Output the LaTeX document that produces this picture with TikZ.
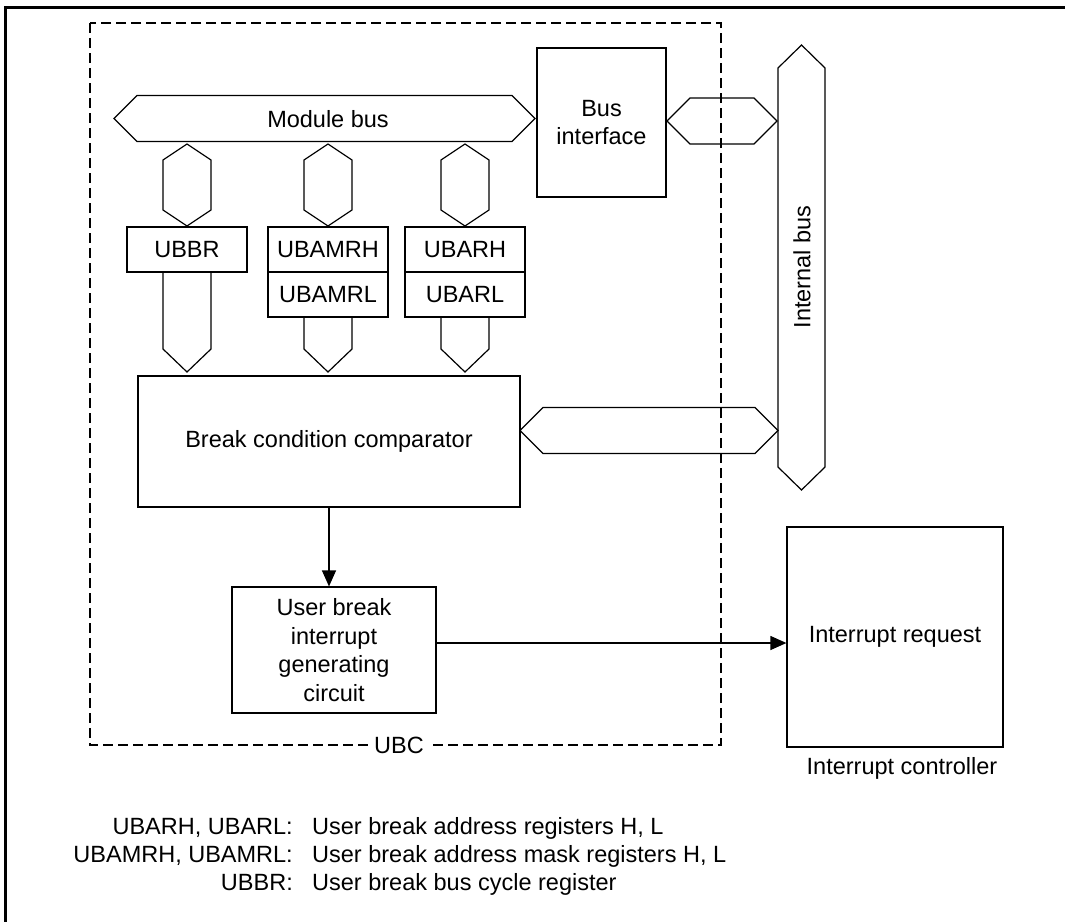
\documentclass[tikz,border=0pt]{standalone}
\usepackage{fontspec}
\setmainfont{Liberation Sans}
\usetikzlibrary{arrows.meta}

\tikzset{
  blk/.style={draw, line width=1.2pt, inner sep=0pt, align=center},
  bus/.style={draw, line width=1.2pt, line join=miter},
  arr/.style={line width=1.2pt, -{Triangle[length=16pt,width=14pt]}},
  txt/.style={inner sep=0pt},
}

% horizontal bus: left tip x, right tip x, mid y, half height
\newcommand{\hbus}[4]{%
  \draw[bus] (#1,#3) -- ({#1+#4},{#3-#4}) -- ({#2-#4},{#3-#4}) -- (#2,#3)
    -- ({#2-#4},{#3+#4}) -- ({#1+#4},{#3+#4}) -- cycle;}
% vertical bus: mid x, top tip y, bottom tip y, half width, tip depth
\newcommand{\vbus}[5]{%
  \draw[bus] (#1,#2) -- ({#1+#4},{#2+#5}) -- ({#1+#4},{#3-#5}) -- (#1,#3)
    -- ({#1-#4},{#3-#5}) -- ({#1-#4},{#2+#5}) -- cycle;}

\begin{document}
\begin{tikzpicture}[x=1pt, y=-1pt, font=\fontsize{23.5}{28.5}\selectfont]
		\useasboundingbox (0,0) rectangle (1065,921);
		\draw[line width=3pt] (5,940) -- (5,7) -- (1080,7);

		% UBC frame
		\draw[line width=1.2pt, dash pattern=on 10pt off 5pt] (90,23) rectangle (721,745);
		\node[fill=white, inner sep=6pt] (ubc) at (399,745) {UBC};

		% boxes
		\node[blk, minimum width=129pt, minimum height=149pt] (bif) at (601.5,122.5) {Bus\\interface};
		\node[blk, minimum width=120pt, minimum height=45pt] (ubbr) at (187,249.5) {UBBR};
		\node[blk, minimum width=120pt, minimum height=45pt] (ubamrh) at (328,249.5) {UBAMRH};
		\node[blk, minimum width=120pt, minimum height=45pt] (ubamrl) at (328,294.5) {UBAMRL};
		\node[blk, minimum width=120pt, minimum height=45pt] (ubarh) at (465,249.5) {UBARH};
		\node[blk, minimum width=120pt, minimum height=45pt] (ubarl) at (465,294.5) {UBARL};
		\node[blk, minimum width=382pt, minimum height=131pt] (cmp) at (329,441.5) {Break condition comparator};
		\node[blk, minimum width=204pt, minimum height=126pt] (ubi) at (334,650) {User break\\interrupt\\generating\\circuit};
		\node[blk, minimum width=216pt, minimum height=220pt] (irq) at (895,637) {Interrupt request};
		\node[txt] (ictl) at (902,768) {Interrupt controller};

		% buses
		\hbus{114}{535}{118.5}{23}
		\node[txt] (mbus) at (328,119) {Module bus};
		\hbus{667}{777}{121}{23}
		\hbus{520}{778}{430.5}{23}
		\vbus{801.5}{45}{490}{23.5}{23}
		\node[txt, rotate=90] (ibus) at (802,267) {Internal bus};

		\foreach \x in {187, 328, 465} {
			\vbus{\x}{144}{226}{24}{16}
		}
		\foreach \x/\y in {187/272, 328/317, 465/317} {
			\draw[bus] (\x-24,\y) -- (\x-24,349) -- (\x,372) -- (\x+24,349) -- (\x+24,\y);
		}

		% signals
		\draw[arr] (cmp.south) -- (cmp.south |- ubi.north);
		\draw[arr] (ubi.east |- 0,643) -- (irq.west |- 0,643);

		% legend
		\node[txt, anchor=base east] (k1) at (293,834) {UBARH, UBARL:};
		\node[txt, anchor=base west] (d1) at (312,834) {User break address registers H, L};
		\node[txt, anchor=base east] (k2) at (293,862) {UBAMRH, UBAMRL:};
		\node[txt, anchor=base west] (d2) at (312,862) {User break address mask registers H, L};
		\node[txt, anchor=base east] (k3) at (293,890) {UBBR:};
		\node[txt, anchor=base west] (d3) at (312,890) {User break bus cycle register};
\end{tikzpicture}
\end{document}
